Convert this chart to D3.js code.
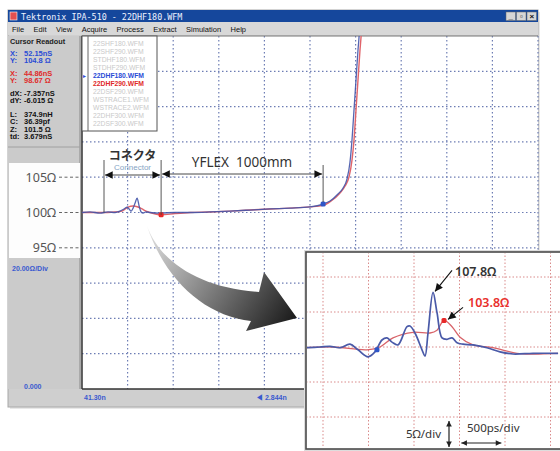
<!DOCTYPE html>
<html lang="ja">
<head>
<meta charset="UTF-8" />
<title>TDR</title>
<style>
  body { margin: 0; background: #fff; }
  svg { display: block; font-family: "Liberation Sans", Arial, sans-serif; }
</style>
</head>
<body>
<script src="https://cdn.jsdelivr.net/npm/d3@7/dist/d3.min.js"></script>
<script>
// --- main TDR trace (time in ns, impedance in ohm) ---
const mainBlueT = [41.30,41.66,42.11,42.47,42.79,43.01,43.19,43.33,43.42,43.51,43.60,43.69,43.78,43.87,43.96,44.05,44.18,44.36,44.81,45.49,46.16,47.06,47.96,48.86,49.76,50.66,51.56,52.15,52.46,52.82,53.05,53.23,53.36,53.45,53.54,53.63,53.72,53.77,53.81];
const mainBlueZ = [100,100.3,99.7,100.3,100,100.8,102.0,103.1,102.0,100.8,102.5,105.4,108.2,103.7,100.3,99.7,100.3,100,99.7,100,100,100.3,100.8,101.4,102.0,102.5,103.2,104.8,106.5,110.5,113.9,119.2,128.6,141.1,158.1,175.1,192.1,200,209.1];
const mainRedT = [41.30,42.11,42.79,43.10,43.37,43.60,43.82,44.00,44.18,44.36,44.86,45.49,46.16,47.06,47.96,48.86,49.76,50.66,51.56,52.15,52.51,52.91,53.14,53.32,53.45,53.54,53.63,53.72,53.81,53.86,53.90];
const mainRedZ = [100,100,100.3,100.8,103.1,103.7,103.1,102.0,100.8,100,98.7,99.4,100,100.3,100.8,101.4,102.0,102.5,103.2,104.0,106.5,111.0,115.0,120.3,129.7,141.1,158.1,175.1,192.1,200,209.1];

// cursors: blue, red
const cursorX = [52.15, 44.86];
const cursorY = [104.8, 98.67];
const connectorStart = 42.29;

// --- zoomed inset (time in ps, impedance in ohm) ---
const inBluePs = [-176,-33,77,187,297,385,495,571,648,703,758,824,923,956,1011,1088,1121,1154,1209,1253,1308,1363,1418,1473,1539,1649,1802,1945,2088,2308,2583];
const inBlueZ = [99.9,100.0,100.1,99.9,100.4,99.6,98.6,99.3,101.0,101.3,100.7,100.3,102.9,103.0,102.0,99.6,98.7,102.0,107.8,104.9,101.3,101.1,101.3,100.6,100.4,100.3,99.9,99.3,99.0,99.1,99.1];
const inRedPs = [-176,110,484,626,769,989,1176,1253,1330,1418,1506,1649,1868,2132,2308,2583];
const inRedZ = [99.9,100.0,99.6,100.0,101.3,102.1,102.0,102.4,103.8,102.9,101.4,100.3,99.9,99.1,99.0,99.1];
const inBlueDot = [593, 99.6];

// texts
const menuItems = ["File","Edit","View","Acquire","Process","Extract","Simulation","Help"];
const readout = [
  ["X:", "52.15nS", "#2a4cd6"], ["Y:", "104.8 Ω", "#2a4cd6"],
  ["X:", "44.86nS", "#e02a2a"], ["Y:", "98.67 Ω", "#e02a2a"],
  ["dX:", "-7.357nS", "#111"], ["dY:", "-6.015 Ω", "#111"],
  ["L:", "374.9nH", "#111"], ["C:", "36.39pf", "#111"],
  ["Z:", "101.5 Ω", "#111"], ["td:", "3.679nS", "#111"]
];
const readoutGroup = [0,0,1,1,2,2,3,3,3,3];
const fileList = ["22SHF180.WFM","22SHF290.WFM","STDHF180.WFM","STDHF290.WFM","22DHF180.WFM","22DHF290.WFM","22DSF290.WFM","WSTRACE1.WFM","WSTRACE2.WFM","22DHF300.WFM","22DSF300.WFM"];
const annotLabels = ["105Ω","100Ω","95Ω"];
const annotRows = [1, 0, -1];

const W = 560, H = 451;
const svg = d3.select("body").append("svg").attr("width", W).attr("height", H);
const defs = svg.append("defs");

function marker(id, color, size) {
  defs.append("marker").attr("id", id)
    .attr("viewBox", "0 0 10 10").attr("refX", 10).attr("refY", 5)
    .attr("markerWidth", size).attr("markerHeight", size * 0.7)
    .attr("markerUnits", "userSpaceOnUse")
    .attr("orient", "auto-start-reverse")
    .append("path").attr("d", "M0,0 L10,5 L0,10 Z").attr("fill", color);
}
marker("ah", "#111", 11);
marker("ahs", "#222", 8);

const grad = defs.append("linearGradient").attr("id", "arrowGrad")
  .attr("gradientUnits", "userSpaceOnUse")
  .attr("x1", 147).attr("y1", 226).attr("x2", 290).attr("y2", 322);
grad.append("stop").attr("offset", 0).attr("stop-color", "#e4e4e4");
grad.append("stop").attr("offset", 0.45).attr("stop-color", "#8a8a8a");
grad.append("stop").attr("offset", 1).attr("stop-color", "#1e1e1e");

// ---------- window chrome ----------
const win = { x: 8, y: 10, w: 530, h: 397 };
svg.append("rect").attr("x", win.x + 2).attr("y", win.y + 2).attr("width", win.w).attr("height", win.h)
  .attr("fill", "#e8e8e8");
svg.append("rect").attr("x", win.x).attr("y", win.y).attr("width", win.w).attr("height", win.h)
  .attr("fill", "#cfcfcf").attr("stroke", "#a8a8a8");

// title bar
svg.append("rect").attr("x", win.x).attr("y", win.y).attr("width", win.w).attr("height", 12)
  .attr("fill", "#15479c");
svg.append("rect").attr("x", 10).attr("y", 12).attr("width", 7).attr("height", 8).attr("fill", "#e35050")
  .attr("stroke", "#fff").attr("stroke-width", 0.6);
svg.append("text").attr("x", 21).attr("y", 19.5).attr("fill", "#eef2ff")
  .attr("font-family", "DejaVu Sans Mono, monospace").attr("font-size", 8.4)
  .text("Tektronix IPA-510 - 22DHF180.WFM");
["_", "▫", "×"].forEach((s, i) => {
  const bx = 506 + i * 10.5;
  svg.append("rect").attr("x", bx).attr("y", 12).attr("width", 9.5).attr("height", 8.5)
    .attr("fill", "#d6d6d6").attr("stroke", "#666").attr("stroke-width", 0.5);
  svg.append("text").attr("x", bx + 4.8).attr("y", 19).attr("text-anchor", "middle")
    .attr("font-size", 8).attr("font-weight", "bold").attr("fill", "#111").text(s);
});

// menu bar
svg.append("rect").attr("x", win.x).attr("y", 22).attr("width", win.w).attr("height", 13).attr("fill", "#d8d8d8");
let mx = 12;
menuItems.forEach(m => {
  const t = svg.append("text").attr("x", mx).attr("y", 31.5).attr("font-size", 7.5).attr("fill", "#111").text(m);
  mx += t.node().getComputedTextLength() + 9.5;
});

// ---------- main plot ----------
const plot = { x0: 82, x1: 538, y0: 36, y1: 389 };
const nsPerDiv = 2.052;
const xMain = d3.scaleLinear().domain([41.30, 41.30 + 10 * nsPerDiv]).range([plot.x0, plot.x1]);
const yMain = d3.scaleLinear().domain([0, 200]).range([plot.y1, plot.y0]);

svg.append("rect").attr("x", plot.x0).attr("y", plot.y0).attr("width", plot.x1 - plot.x0)
  .attr("height", plot.y1 - plot.y0).attr("fill", "#fff");

const gridColor = "#6d7db4";
const gGrid = svg.append("g");
gGrid.selectAll(".vg").data(d3.range(1, 11)).join("line")
  .attr("x1", i => xMain(41.30 + i * nsPerDiv)).attr("x2", i => xMain(41.30 + i * nsPerDiv))
  .attr("y1", plot.y0).attr("y2", plot.y1)
  .attr("stroke", gridColor).attr("stroke-width", 1.2).attr("stroke-dasharray", "1.5,2.5");
gGrid.selectAll(".hg").data(d3.range(1, 10)).join("line")
  .attr("x1", plot.x0).attr("x2", plot.x1)
  .attr("y1", i => yMain(i * 20)).attr("y2", i => yMain(i * 20))
  .attr("stroke", gridColor).attr("stroke-width", 1.2).attr("stroke-dasharray", "1.5,2.5");

// plot frame
svg.append("line").attr("x1", plot.x0).attr("x2", plot.x0).attr("y1", plot.y0).attr("y2", plot.y1)
  .attr("stroke", "#333").attr("stroke-width", 1.5);
svg.append("line").attr("x1", plot.x0).attr("x2", plot.x1).attr("y1", plot.y1).attr("y2", plot.y1)
  .attr("stroke", "#333").attr("stroke-width", 1.5);
svg.append("line").attr("x1", plot.x0).attr("x2", plot.x1).attr("y1", plot.y0).attr("y2", plot.y0)
  .attr("stroke", "#777").attr("stroke-width", 1);

defs.append("clipPath").attr("id", "mainClip").append("rect")
  .attr("x", plot.x0).attr("y", plot.y0).attr("width", plot.x1 - plot.x0).attr("height", plot.y1 - plot.y0);

const lineMain = d3.line().x(d => xMain(d[0])).y(d => yMain(d[1])).curve(d3.curveMonotoneX);
const gTrace = svg.append("g").attr("clip-path", "url(#mainClip)");
gTrace.append("path").datum(d3.zip(mainRedT, mainRedZ)).attr("d", lineMain)
  .attr("fill", "none").attr("stroke", "#e0646a").attr("stroke-width", 1.4);
gTrace.append("path").datum(d3.zip(mainBlueT, mainBlueZ)).attr("d", lineMain)
  .attr("fill", "none").attr("stroke", "#4254a8").attr("stroke-width", 1.3).attr("opacity", 0.9);

// cursor dots
svg.selectAll(".cur").data(d3.zip(cursorX, cursorY, ["#2f56c8", "#e82828"])).join("rect")
  .attr("x", d => xMain(d[0]) - 2.5).attr("y", d => yMain(d[1]) - 2.5)
  .attr("width", 5).attr("height", 5).attr("rx", 1.5).attr("fill", d => d[2]);

// file list box
const fb = { x: 82, y: 36, w: 75, h: 95 };
svg.append("rect").attr("x", fb.x).attr("y", fb.y).attr("width", fb.w).attr("height", fb.h)
  .attr("fill", "#fff").attr("stroke", "#555").attr("stroke-width", 1);
svg.append("line").attr("x1", fb.x + 6).attr("x2", fb.x + 6).attr("y1", fb.y).attr("y2", fb.y + fb.h)
  .attr("stroke", "#666").attr("stroke-width", 1);
svg.selectAll(".fl").data(fileList).join("text")
  .attr("x", fb.x + 11).attr("y", (d, i) => 45.5 + i * 8)
  .attr("font-size", 6.8).attr("font-weight", (d, i) => (i === 4 || i === 5) ? "bold" : "normal")
  .attr("fill", (d, i) => i === 4 ? "#2a4cd6" : i === 5 ? "#e02a2a" : "#c9c9c9")
  .text(d => d);
svg.append("text").attr("x", fb.x + 1).attr("y", 77.5).attr("font-size", 6).attr("fill", "#2a4cd6").text("▸");

// ---------- left panel ----------
svg.append("rect").attr("x", 8).attr("y", 36).attr("width", 73).attr("height", 353).attr("fill", "#cbcbcb");
svg.append("line").attr("x1", 80).attr("x2", 80).attr("y1", 36).attr("y2", 389).attr("stroke", "#888");
svg.append("text").attr("x", 10).attr("y", 44).attr("font-size", 7.3).attr("font-weight", "bold")
  .attr("fill", "#222").text("Cursor Readout");
const groupStart = [53, 73, 93, 114];
const rows = svg.selectAll(".ro").data(readout).join("g")
  .attr("transform", (d, i) => {
    const g = readoutGroup[i];
    const k = i - readoutGroup.indexOf(g);
    return `translate(10, ${groupStart[g] + k * 7.5 + 2.5})`;
  });
rows.append("text").attr("font-size", 7.5).attr("font-weight", "bold").attr("fill", d => d[2]).text(d => d[0]);
rows.append("text").attr("x", 14).attr("font-size", 7.5).attr("font-weight", "bold").attr("fill", d => d[2]).text(d => d[1]);
svg.append("line").attr("x1", 8).attr("x2", 80).attr("y1", 147).attr("y2", 147).attr("stroke", "#a0a0a0");

// white annotation strip with 105/100/95 labels
svg.append("rect").attr("x", 9).attr("y", 163).attr("width", 71).attr("height", 95).attr("fill", "#fdfdfd");
const yDiv = yMain(0) - yMain(20);
annotLabels.forEach((lab, i) => {
  const yy = yMain(100) - annotRows[i] * yDiv;
  svg.append("text").attr("x", 56).attr("y", yy + 4.5).attr("text-anchor", "end")
    .attr("font-size", 12.5).attr("fill", "#555").attr("font-family", "Noto Sans, sans-serif").text(lab);
  svg.append("line").attr("x1", 59).attr("x2", 80).attr("y1", yy).attr("y2", yy)
    .attr("stroke", "#666").attr("stroke-width", 1).attr("stroke-dasharray", "3,2.5");
});
svg.append("text").attr("x", 12).attr("y", 271).attr("font-size", 7).attr("font-weight", "bold")
  .attr("fill", "#3a5ad0").text("20.00Ω/Div");
svg.append("text").attr("x", 24).attr("y", 389).attr("font-size", 7).attr("font-weight", "bold")
  .attr("fill", "#3a5ad0").text("0.000");

// bottom strip labels
svg.append("text").attr("x", 84).attr("y", 400).attr("font-size", 7).attr("font-weight", "bold")
  .attr("fill", "#3a5ad0").text("41.30n");
svg.append("text").attr("x", 256).attr("y", 400).attr("font-size", 7).attr("font-weight", "bold")
  .attr("fill", "#3a5ad0").text("◀  2.844n");

// ---------- dimension annotations ----------
const xa = xMain(connectorStart), xb = xMain(cursorX[1]), xc = xMain(cursorX[0]);
const dim = svg.append("g").attr("stroke", "#444").attr("stroke-width", 0.9);
dim.append("line").attr("x1", xa).attr("x2", xa).attr("y1", 160).attr("y2", yMain(100));
dim.append("line").attr("x1", xb).attr("x2", xb).attr("y1", 160).attr("y2", yMain(cursorY[1]));
dim.append("line").attr("x1", xc).attr("x2", xc).attr("y1", 165).attr("y2", yMain(cursorY[0]) - 2);
svg.append("line").attr("x1", xa + 1).attr("x2", xb - 1).attr("y1", 175).attr("y2", 175)
  .attr("stroke", "#333").attr("stroke-width", 0.9)
  .attr("marker-start", "url(#ah)").attr("marker-end", "url(#ah)");
svg.append("line").attr("x1", xb + 1).attr("x2", xc - 1).attr("y1", 174).attr("y2", 174)
  .attr("stroke", "#333").attr("stroke-width", 0.9)
  .attr("marker-start", "url(#ah)").attr("marker-end", "url(#ah)");
svg.append("text").attr("x", (xa + xb) / 2).attr("y", 160).attr("text-anchor", "middle")
  .attr("font-family", "Noto Sans CJK JP, sans-serif").attr("font-weight", "bold")
  .attr("font-size", 12).attr("fill", "#333").text("コネクタ");
svg.append("text").attr("x", (xa + xb) / 2).attr("y", 169.5).attr("text-anchor", "middle")
  .attr("font-size", 8).attr("fill", "#86a4c4").text("Connector");
svg.append("text").attr("x", 242).attr("y", 167).attr("text-anchor", "middle")
  .attr("font-family", "Noto Sans, sans-serif").attr("font-size", 13.5).attr("fill", "#333")
  .attr("xml:space", "preserve").text("YFLEX  1000mm");

// ---------- curved gray arrow ----------
svg.append("path")
  .attr("d", "M147,226 C160,262 200,288 259,292 L264,272 L297,318 L246,331 L251,321 C205,316 165,280 147,226 Z")
  .attr("fill", "url(#arrowGrad)");

// ---------- inset ----------
const inset = { x0: 306, x1: 562, y0: 252, y1: 449 };
const xIn = d3.scaleLinear().domain([0, 2500]).range([323, 550.5]);
const yIn = d3.scaleLinear().domain([90, 110]).range([417, 277]);

svg.append("rect").attr("x", inset.x0 - 2).attr("y", inset.y0 - 2)
  .attr("width", inset.x1 - inset.x0 + 4).attr("height", inset.y1 - inset.y0 + 4).attr("fill", "#ddd");
svg.append("rect").attr("x", inset.x0).attr("y", inset.y0)
  .attr("width", inset.x1 - inset.x0).attr("height", inset.y1 - inset.y0)
  .attr("fill", "#fff").attr("stroke", "#4a4a4a").attr("stroke-width", 1.6);
defs.append("clipPath").attr("id", "inClip").append("rect")
  .attr("x", inset.x0 + 1).attr("y", inset.y0 + 1)
  .attr("width", inset.x1 - inset.x0 - 2).attr("height", inset.y1 - inset.y0 - 2);
const gIn = svg.append("g").attr("clip-path", "url(#inClip)");
const inGrid = "#d98a8a";
gIn.selectAll(".ivg").data(d3.range(0, 2501, 500)).join("line")
  .attr("x1", d => xIn(d)).attr("x2", d => xIn(d)).attr("y1", inset.y0).attr("y2", inset.y1)
  .attr("stroke", inGrid).attr("stroke-width", 1).attr("stroke-dasharray", "1.5,2");
gIn.selectAll(".ihg").data(d3.range(90, 111, 5)).join("line")
  .attr("x1", inset.x0).attr("x2", inset.x1).attr("y1", d => yIn(d)).attr("y2", d => yIn(d))
  .attr("stroke", inGrid).attr("stroke-width", 1).attr("stroke-dasharray", "1.5,2");

const lineIn = d3.line().x(d => xIn(d[0])).y(d => yIn(d[1])).curve(d3.curveCatmullRom.alpha(0.5));
gIn.append("path").datum(d3.zip(inRedPs, inRedZ)).attr("d", lineIn)
  .attr("fill", "none").attr("stroke", "#d8646a").attr("stroke-width", 1.3);
gIn.append("path").datum(d3.zip(inBluePs, inBlueZ)).attr("d", lineIn)
  .attr("fill", "none").attr("stroke", "#4a5aa8").attr("stroke-width", 1.7);

// markers on inset
const bluePeak = d3.maxIndex(inBlueZ);
const redPeak = d3.maxIndex(inRedZ);
svg.append("rect").attr("x", xIn(inBlueDot[0]) - 2.5).attr("y", yIn(inBlueDot[1]) - 2.5)
  .attr("width", 5).attr("height", 5).attr("rx", 1.5).attr("fill", "#2f56c8");
svg.append("rect").attr("x", xIn(inRedPs[redPeak]) - 2.5).attr("y", yIn(inRedZ[redPeak]) - 2.5)
  .attr("width", 5).attr("height", 5).attr("rx", 1.5).attr("fill", "#e82828");

// peak callouts
const bpx = xIn(inBluePs[bluePeak]), bpy = yIn(inBlueZ[bluePeak]);
svg.append("line").attr("x1", bpx + 19).attr("y1", bpy - 22).attr("x2", bpx + 2).attr("y2", bpy - 1)
  .attr("stroke", "#111").attr("stroke-width", 1.1).attr("marker-end", "url(#ah)");
svg.append("text").attr("x", bpx + 22).attr("y", bpy - 16).attr("font-family", "Noto Sans, sans-serif")
  .attr("font-size", 12.5).attr("font-weight", 600).attr("fill", "#333")
  .text(d3.format(".1f")(inBlueZ[bluePeak]) + "Ω");
const rpx = xIn(inRedPs[redPeak]), rpy = yIn(inRedZ[redPeak]);
svg.append("line").attr("x1", rpx + 19).attr("y1", rpy - 13).attr("x2", rpx + 4).attr("y2", rpy - 1)
  .attr("stroke", "#111").attr("stroke-width", 1.1).attr("marker-end", "url(#ah)");
svg.append("text").attr("x", rpx + 24).attr("y", rpy - 13).attr("font-family", "Noto Sans, sans-serif")
  .attr("font-size", 12.5).attr("font-weight", 600).attr("fill", "#e8302c")
  .text(d3.format(".1f")(inRedZ[redPeak]) + "Ω");

// scale notes
svg.append("text").attr("x", 441).attr("y", 438).attr("text-anchor", "end")
  .attr("font-family", "Noto Sans, sans-serif").attr("font-size", 11.5).attr("fill", "#333").text("5Ω/div");
svg.append("line").attr("x1", 449).attr("x2", 449).attr("y1", 421).attr("y2", 447)
  .attr("stroke", "#222").attr("stroke-width", 1.2)
  .attr("marker-start", "url(#ahs)").attr("marker-end", "url(#ahs)");
svg.append("text").attr("x", 467).attr("y", 432)
  .attr("font-family", "Noto Sans, sans-serif").attr("font-size", 11.5).attr("fill", "#333").text("500ps/div");
svg.append("line").attr("x1", xIn(1520)).attr("x2", xIn(1960)).attr("y1", 443).attr("y2", 443)
  .attr("stroke", "#222").attr("stroke-width", 1.2)
  .attr("marker-start", "url(#ahs)").attr("marker-end", "url(#ahs)");
</script>
</body>
</html>
